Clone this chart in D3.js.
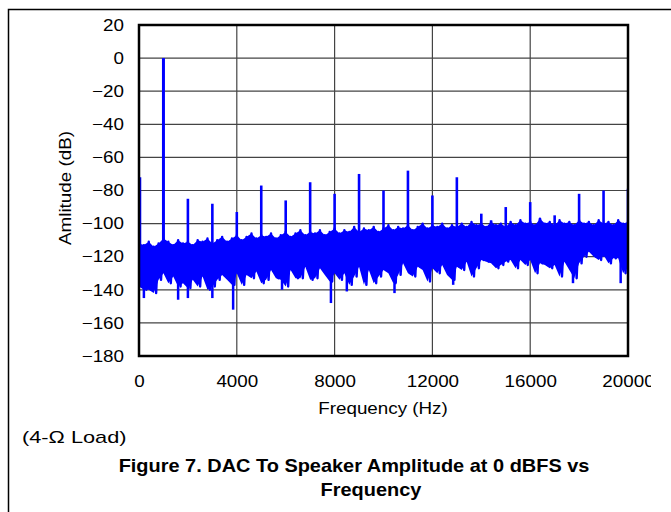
<!DOCTYPE html>
<html>
<head>
<meta charset="utf-8">
<script src="https://cdn.jsdelivr.net/npm/d3@7"></script>
<style>
  body { margin: 0; background: #fff; }
  svg text { font-family: "Liberation Sans", Arial, sans-serif; fill: #000; }
</style>
</head>
<body>
<div id="chart"></div>
<script>
var W = 671, H = 512;

// x tick labels and y tick labels
var xTicks = [0, 4000, 8000, 12000, 16000, 20000];
var yTicks = [20, 0, -20, -40, -60, -80, -100, -120, -140, -160, -180];

// noise floor, one bin every 200 Hz (0 .. 20000 Hz): upper and lower excursion in dB
var binHz = 200;
var noiseHigh = [
  -112, -113, -111, -114, -112, -109, -111, -113, -110, -112,
  -111, -113, -110, -111, -109, -112, -110, -108, -111, -109,
  -107, -110, -108, -106, -109, -107, -108, -106, -109, -107,
  -105, -108, -106, -104, -107, -105, -106, -104, -107, -105,
  -103, -106, -104, -105, -102, -105, -103, -104, -102, -105,
  -103, -101, -104, -102, -103, -101, -104, -102, -100, -103,
  -101, -102, -100, -103, -101, -102, -100, -102, -99, -101,
  -100, -102, -99, -101, -100, -102, -99, -101, -98, -100,
  -99, -101, -97, -100, -99, -101, -98, -100, -99, -101,
  -98, -100, -99, -101, -98, -100, -99, -101, -98, -100, -99
];
var noiseLow = [
  -138, -140, -140, -142, -134, -130, -136, -132, -138, -136,
  -139, -134, -138, -132, -140, -138, -134, -131, -134, -137,
  -130, -137, -131, -133, -129, -136, -134, -128, -133, -134,
  -138, -128, -133, -133, -126, -134, -133, -127, -131, -135,
  -130, -134, -130, -137, -132, -126, -137, -128, -136, -132,
  -128, -130, -136, -131, -124, -130, -132, -126, -128, -135,
  -127, -130, -125, -131, -134, -126, -128, -123, -132, -127,
  -122, -123, -124, -127, -125, -123, -122, -127, -122, -125,
  -122, -130, -124, -125, -127, -125, -132, -123, -128, -133,
  -124, -120, -117, -120, -122, -119, -124, -121, -121, -130, -125
];

// signal tone and harmonics (Hz, dB)
var toneHz = [40, 1000, 2000, 3000, 4000, 5000, 6000, 7000, 8000, 9000, 10000,
  11000, 12000, 13000, 14000, 15000, 16000, 17000, 18000, 19000, 20000];
var toneDb = [-72, 0, -85, -88, -93, -77, -86, -75, -82, -70, -80,
  -68, -83, -72, -94, -90, -87, -95, -82, -80, -79];

// single bins that poke out of the noise band (Hz, dB)
var spurHz = [200, 1600, 2000, 3000, 3850, 5850, 7850, 8500, 10450, 12850, 14400, 16400, 17750, 19700];
var spurDb = [-145, -146, -145, -145, -152, -140, -148, -141, -142, -137, -98, -97, -136, -136];

var svg = d3.select("#chart").append("svg")
    .attr("width", W)
    .attr("height", H);

// outer frame (top and left edges only)
svg.append("path")
    .attr("d", "M8.5,512 V9.5 H671")
    .attr("fill", "none")
    .attr("stroke", "#000")
    .attr("stroke-width", 1.5);

var x = d3.scaleLinear().domain([0, 20000]).range([139, 628]);
var y = d3.scaleLinear().domain([-180, 20]).range([356, 25]);

// grid
svg.append("g").selectAll("line")
    .data(yTicks)
    .enter().append("line")
    .attr("x1", x(0)).attr("x2", x(20000))
    .attr("y1", d => y(d)).attr("y2", d => y(d))
    .attr("stroke", "#444").attr("stroke-width", 1.2);

svg.append("g").selectAll("line")
    .data(xTicks)
    .enter().append("line")
    .attr("x1", d => x(d)).attr("x2", d => x(d))
    .attr("y1", y(20)).attr("y2", y(-180))
    .attr("stroke", "#444").attr("stroke-width", 1.2);

var defs = svg.append("defs");
defs.append("clipPath")
    .attr("id", "plot")
    .append("rect")
    .attr("x", x(0)).attr("y", y(20))
    .attr("width", x(20000) - x(0)).attr("height", y(-180) - y(20));
defs.append("clipPath")
    .attr("id", "page")
    .append("rect")
    .attr("x", 0).attr("y", 0)
    .attr("width", 651).attr("height", H);

var data = svg.append("g").attr("clip-path", "url(#plot)");

var bins = noiseHigh.map((v, i) => ({ f: i * binHz, hi: v, lo: noiseLow[i] }));

// solid core of the noise band
data.append("path")
    .datum(bins)
    .attr("fill", "#0000ff")
    .attr("d", d3.area().x(d => x(d.f)).y0(d => y(d.lo)).y1(d => y(d.hi)));

// noise: alternate the high and low excursion of each bin
var pts = [];
bins.forEach(function(b, i) {
  pts.push([b.f, b.hi]);
  pts.push([i < bins.length - 1 ? b.f + binHz / 2 : b.f, b.lo]);
});

data.append("path")
    .datum(pts)
    .attr("fill", "none")
    .attr("stroke", "#0000ff")
    .attr("stroke-width", 2.4)
    .attr("stroke-linejoin", "round")
    .attr("d", d3.line().x(d => x(d[0])).y(d => y(d[1])));

data.selectAll(".spur")
    .data(spurHz)
    .enter().append("line")
    .attr("class", "spur")
    .attr("x1", d => x(d)).attr("x2", d => x(d))
    .attr("y1", y(-120))
    .attr("y2", (d, i) => y(spurDb[i]))
    .attr("stroke", "#0000ff")
    .attr("stroke-width", 2.5);

data.selectAll(".tone")
    .data(toneHz)
    .enter().append("line")
    .attr("class", "tone")
    .attr("x1", d => x(d)).attr("x2", d => x(d))
    .attr("y1", y(-120))
    .attr("y2", (d, i) => y(toneDb[i]))
    .attr("stroke", "#0000ff")
    .attr("stroke-width", (d, i) => i == 1 ? 3 : 2.6);

// plot border
svg.append("rect")
    .attr("x", x(0)).attr("y", y(20))
    .attr("width", x(20000) - x(0)).attr("height", y(-180) - y(20))
    .attr("fill", "none")
    .attr("stroke", "#000")
    .attr("stroke-width", 2.5);

// the source figure's lettering is a little wider than the font
var stretch = 1.14;

var yAxis = d3.axisLeft(y).tickValues(yTicks).tickSize(0).tickPadding(15);
var gy = svg.append("g")
    .attr("transform", "translate(" + x(0) + ",0)")
    .call(yAxis);
gy.select(".domain").remove();
gy.selectAll("text")
    .style("font-size", "16.5px")
    .attr("x", -15 / stretch)
    .attr("transform", "scale(" + stretch + ",1)");

var xAxis = d3.axisBottom(x).tickValues(xTicks).tickSize(0).tickPadding(19).tickFormat(d3.format("d"));
var gx = svg.append("g")
    .attr("clip-path", "url(#page)")
    .append("g")
    .attr("transform", "translate(0," + y(-180) + ")")
    .call(xAxis);
gx.select(".domain").remove();
gx.selectAll("text")
    .style("font-size", "16.5px")
    .attr("transform", "scale(" + stretch + ",1)");

function label(tx, ty, rot, k, size, bold, anchor, str) {
  svg.append("text")
      .attr("transform", "translate(" + tx + "," + ty + ")" + (rot ? " rotate(" + rot + ")" : "") + " scale(" + k + ",1)")
      .attr("text-anchor", anchor)
      .style("font-size", size + "px")
      .style("font-weight", bold ? "bold" : "normal")
      .text(str);
}

label(71, 188, -90, stretch, 16.5, false, "middle", "Amlitude (dB)");
label(383, 414, 0, stretch, 16.5, false, "middle", "Frequency (Hz)");
label(22, 443, 0, 1.28, 17, false, "start", "(4-\u03A9 Load)");
label(354, 472, 0, stretch, 17.5, true, "middle", "Figure 7. DAC To Speaker Amplitude at 0 dBFS vs");
label(371, 496, 0, stretch, 17.5, true, "middle", "Frequency");
</script>
</body>
</html>
